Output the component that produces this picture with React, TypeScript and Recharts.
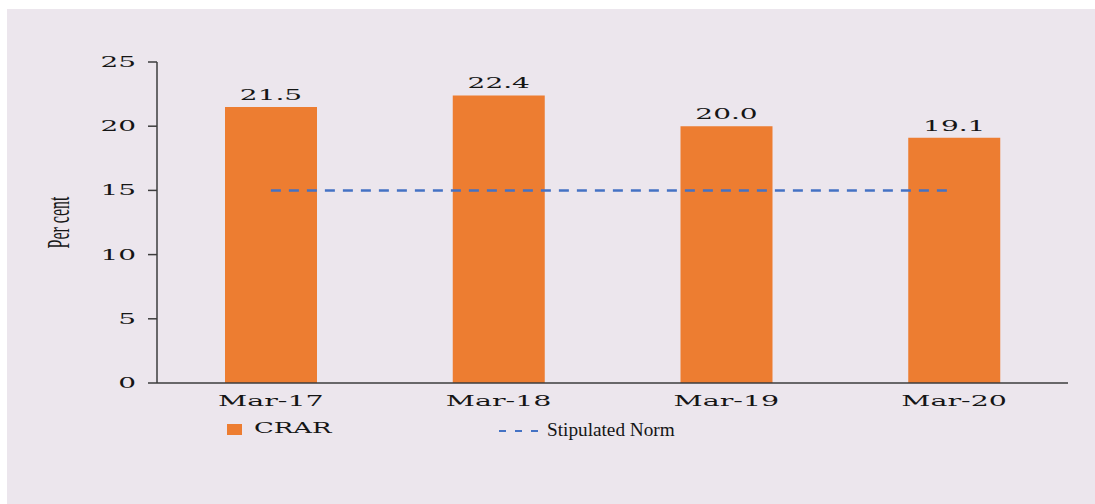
import { ComposedChart, Bar, Line, XAxis, YAxis, Legend, LabelList } from 'recharts';

const categories = ['Mar-17', 'Mar-18', 'Mar-19', 'Mar-20'];
const crar = [21.5, 22.4, 20.0, 19.1];
const stipulatedNorm = [15, 15, 15, 15];
const yTicks = [0, 5, 10, 15, 20, 25];
const edgeTicks = [0, 1, 2, 3, 4];

const data = categories.map((cat, i) => ({ cat, crar: crar[i], norm: stipulatedNorm[i] }));

const AXIS = '#3d3d3d';
const TEXT = '#151515';
const WIDE = '"DejaVu Serif", serif';
const TIMES = '"Liberation Serif", "Times New Roman", serif';

function YTick({ x, y, payload }: any) {
  return (
    <g transform={`translate(${x},${y})`}>
      <text textAnchor="end" dy="0.36em" transform="scale(2,1)" fontFamily={WIDE} fontSize={14} fill={TEXT}>
        {payload.value}
      </text>
    </g>
  );
}

function XTick({ x, y, payload }: any) {
  return (
    <g transform={`translate(${x},${y})`}>
      <text textAnchor="middle" dy="0.71em" transform="scale(1.9,1)" fontFamily={WIDE} fontSize={15} fill={TEXT}>
        {payload.value}
      </text>
    </g>
  );
}

function BarValue({ x, y, width, value }: any) {
  return (
    <g transform={`translate(${x + width / 2},${y - 7})`}>
      <text textAnchor="middle" transform="scale(2,1)" fontFamily={WIDE} fontSize={14} fill={TEXT}>
        {Number(value).toFixed(1)}
      </text>
    </g>
  );
}

function YLabel({ viewBox }: any) {
  const cy = viewBox.y + viewBox.height / 2;
  return (
    <text
      textAnchor="middle"
      transform={`translate(69,${cy}) rotate(-90) scale(1,2)`}
      fontFamily={TIMES}
      fontSize={16}
      fill={TEXT}
    >
      Per cent
    </text>
  );
}

function LegendBox() {
  return (
    <svg width={1095} height={40} style={{ display: 'block' }}>
      <rect x={227} y={14} width={15} height={11} fill="#ED7D31" />
      <g transform="translate(254,23)">
        <text transform="scale(1.85,1)" fontFamily={WIDE} fontSize={14} fill={TEXT}>CRAR</text>
      </g>
      <line x1={499} x2={539} y1={21} y2={21} stroke="#4472C4" strokeWidth={2.2} strokeDasharray="7 9" />
      <g transform="translate(547,26)">
        <text transform="scale(1.07,1)" fontFamily={TIMES} fontSize={18} fill={TEXT}>Stipulated Norm</text>
      </g>
    </svg>
  );
}

export default function App() {
  return (
    <div style={{ position: 'absolute', left: 0, top: 0, width: 1095, height: 504, background: '#fff' }}>
      <div style={{ position: 'absolute', left: 7, top: 9, right: 0, bottom: 0, background: '#ECE6ED' }} />
      <div style={{ position: 'absolute', left: 0, top: 0 }}>
        <ComposedChart width={1095} height={504} data={data} margin={{ top: 62, right: 27, bottom: 91, left: 97 }}>
          <XAxis
            xAxisId="edge"
            type="number"
            domain={[0, 4]}
            ticks={edgeTicks}
            tick={false}
            tickSize={3}
            axisLine={false}
            tickLine={{ stroke: AXIS, strokeWidth: 1.5 }}
            height={0}
          />
          <XAxis
            dataKey="cat"
            tick={<XTick />}
            tickLine={false}
            tickSize={6}
            tickMargin={6}
            axisLine={{ stroke: AXIS, strokeWidth: 1.5 }}
            height={30}
            interval={0}
          />
          <YAxis
            domain={[0, 25]}
            ticks={yTicks}
            width={60}
            tickSize={9}
            tickMargin={12}
            tick={<YTick />}
            axisLine={{ stroke: AXIS, strokeWidth: 1.5 }}
            tickLine={{ stroke: AXIS, strokeWidth: 1.5 }}
            label={<YLabel />}
          />
          <Bar dataKey="crar" fill="#ED7D31" barSize={92} isAnimationActive={false}>
            <LabelList dataKey="crar" content={<BarValue />} />
          </Bar>
          <Line
            dataKey="norm"
            type="linear"
            stroke="#4472C4"
            strokeWidth={2.5}
            strokeDasharray="10 8"
            dot={false}
            activeDot={false}
            isAnimationActive={false}
          />
          <Legend
            verticalAlign="middle"
            align="center"
            content={<LegendBox />}
            wrapperStyle={{ top: 410, left: 0, width: 1095, height: 40 }}
          />
        </ComposedChart>
      </div>
    </div>
  );
}
